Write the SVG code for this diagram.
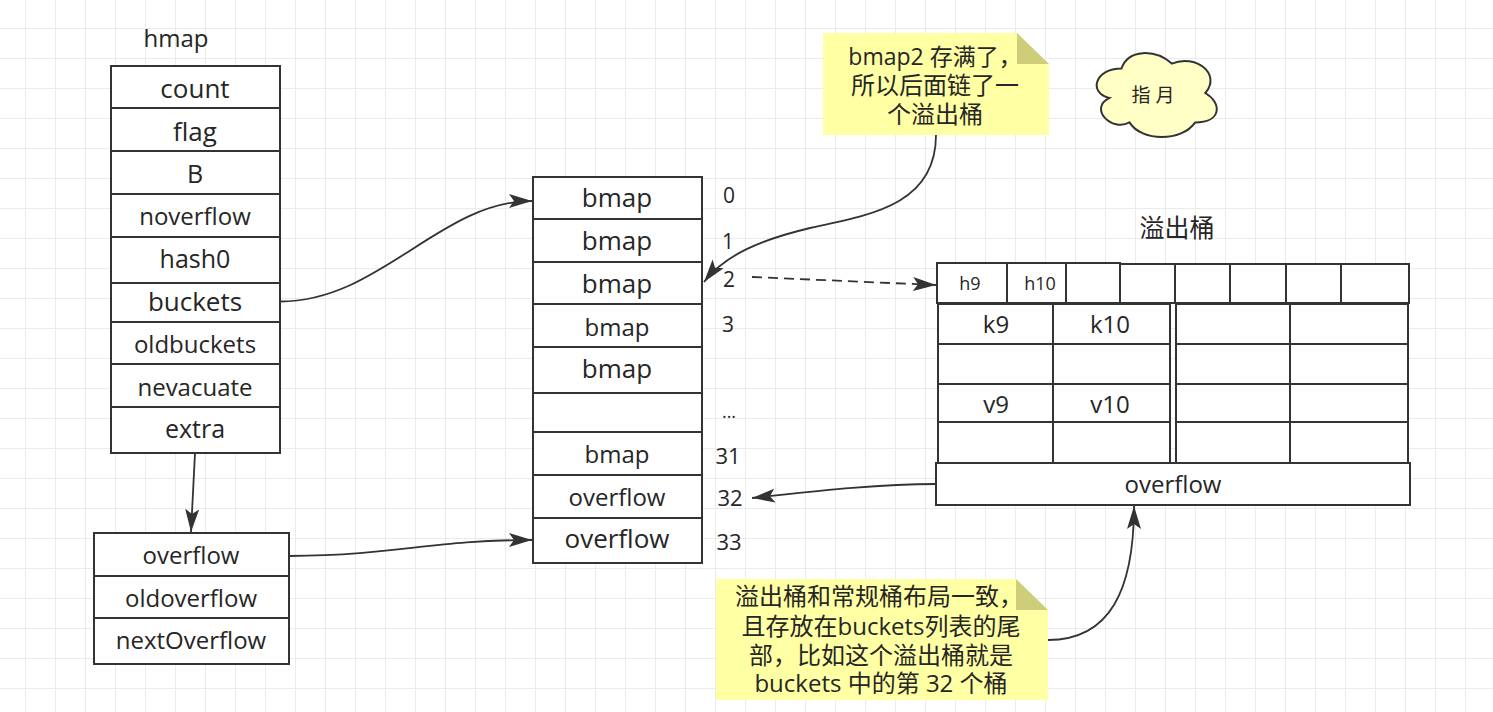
<svg xmlns="http://www.w3.org/2000/svg" width="1493" height="712" viewBox="0 0 1493 712">
<defs>
<pattern id="grid" x="25" y="28" width="30" height="30" patternUnits="userSpaceOnUse">
<path d="M0 0.5H30M0.5 0V30" stroke="#ebebeb" stroke-width="1" fill="none"/>
</pattern>
<marker id="arr" markerUnits="userSpaceOnUse" markerWidth="24" markerHeight="16" viewBox="0 0 24 16" refX="23" refY="8" orient="auto">
<path d="M0,1 L23,8 L0,15 L5,8 Z" fill="#333"/>
</marker>
<style>
.cell{fill:#fff;stroke:#333;stroke-width:2}
.t{font-family:"Open Sans","Noto Sans CJK SC",sans-serif;fill:#262626;text-anchor:middle}
.edge{fill:none;stroke:#333;stroke-width:1.8}
.note{fill:#ffffa4}
.fold{fill:#cdcd7a}
</style>
</defs>
<rect width="1493" height="712" fill="#fff"/>
<rect width="1493" height="712" fill="url(#grid)"/>

<g id="hmap">
<text class="t" x="176" y="47" font-size="24">hmap</text>
<rect class="cell" x="111" y="66" width="169" height="42"/>
<rect class="cell" x="111" y="108" width="169" height="43"/>
<rect class="cell" x="111" y="151" width="169" height="43"/>
<rect class="cell" x="111" y="194" width="169" height="43"/>
<rect class="cell" x="111" y="237" width="169" height="46"/>
<rect class="cell" x="111" y="283" width="169" height="39"/>
<rect class="cell" x="111" y="322" width="169" height="42"/>
<rect class="cell" x="111" y="364" width="169" height="43"/>
<rect class="cell" x="111" y="407" width="169" height="46"/>
<text class="t" x="195" y="98" font-size="26">count</text>
<text class="t" x="195" y="141" font-size="26">flag</text>
<text class="t" x="195" y="183" font-size="25">B</text>
<text class="t" x="195" y="225" font-size="24">noverflow</text>
<text class="t" x="195" y="268" font-size="25">hash0</text>
<text class="t" x="195" y="311" font-size="26">buckets</text>
<text class="t" x="195" y="353" font-size="24">oldbuckets</text>
<text class="t" x="195" y="396" font-size="24">nevacuate</text>
<text class="t" x="195" y="438" font-size="25">extra</text>
</g>

<g id="buckets">
<rect class="cell" x="533" y="177" width="169" height="42"/>
<rect class="cell" x="533" y="219" width="169" height="43"/>
<rect class="cell" x="533" y="262" width="169" height="42"/>
<rect class="cell" x="533" y="304" width="169" height="43"/>
<rect class="cell" x="533" y="347" width="169" height="46"/>
<rect class="cell" x="533" y="393" width="169" height="39"/>
<rect class="cell" x="533" y="432" width="169" height="43"/>
<rect class="cell" x="533" y="475" width="169" height="43"/>
<rect class="cell" x="533" y="518" width="169" height="45"/>
<text class="t" x="617" y="207" font-size="26">bmap</text>
<text class="t" x="617" y="250" font-size="26">bmap</text>
<text class="t" x="617" y="293" font-size="26">bmap</text>
<text class="t" x="617" y="336" font-size="24">bmap</text>
<text class="t" x="617" y="378" font-size="26">bmap</text>
<text class="t" x="617" y="463" font-size="24">bmap</text>
<text class="t" x="617" y="506" font-size="24">overflow</text>
<text class="t" x="617" y="548" font-size="26">overflow</text>
</g>

<g id="indices">
<text class="t" x="729" y="203" font-size="21">0</text>
<text class="t" x="728" y="249" font-size="21">1</text>
<text class="t" x="729" y="287" font-size="21">2</text>
<text class="t" x="728" y="332" font-size="21">3</text>
<text class="t" x="729" y="418" font-size="18">...</text>
<text class="t" x="728" y="464" font-size="22">31</text>
<text class="t" x="730" y="506" font-size="22">32</text>
<text class="t" x="729" y="550" font-size="22">33</text>
</g>

<g id="mapextra">
<rect class="cell" x="94" y="533" width="195" height="43"/>
<rect class="cell" x="94" y="576" width="195" height="42"/>
<rect class="cell" x="94" y="618" width="195" height="46"/>
<text class="t" x="191" y="564" font-size="24">overflow</text>
<text class="t" x="191" y="607" font-size="24">oldoverflow</text>
<text class="t" x="191" y="649" font-size="24">nextOverflow</text>
</g>

<g id="overflow-bucket">
<text class="t" x="1177" y="237" font-size="25">溢出桶</text>
<rect class="cell" x="937" y="263" width="70" height="40"/>
<rect class="cell" x="1007" y="263" width="59" height="40"/>
<rect class="cell" x="1066" y="263" width="54" height="40"/>
<rect class="cell" x="1120" y="264" width="55" height="39"/>
<rect class="cell" x="1175" y="264" width="55" height="39"/>
<rect class="cell" x="1230" y="264" width="56" height="39"/>
<rect class="cell" x="1286" y="264" width="55" height="39"/>
<rect class="cell" x="1341" y="264" width="68" height="39"/>
<rect class="cell" x="938" y="304" width="115" height="40"/>
<rect class="cell" x="1053" y="304" width="117" height="40"/>
<rect class="cell" x="938" y="344" width="115" height="40"/>
<rect class="cell" x="1053" y="344" width="117" height="40"/>
<rect class="cell" x="938" y="384" width="115" height="38"/>
<rect class="cell" x="1053" y="384" width="117" height="38"/>
<rect class="cell" x="938" y="422" width="115" height="41"/>
<rect class="cell" x="1053" y="422" width="117" height="41"/>
<rect class="cell" x="1176" y="304" width="114" height="40"/>
<rect class="cell" x="1290" y="304" width="118" height="40"/>
<rect class="cell" x="1176" y="344" width="114" height="40"/>
<rect class="cell" x="1290" y="344" width="118" height="40"/>
<rect class="cell" x="1176" y="384" width="114" height="38"/>
<rect class="cell" x="1290" y="384" width="118" height="38"/>
<rect class="cell" x="1176" y="422" width="114" height="41"/>
<rect class="cell" x="1290" y="422" width="118" height="41"/>
<rect class="cell" x="936" y="463" width="474" height="42"/>
<text class="t" x="970" y="290" font-size="18">h9</text>
<text class="t" x="1040" y="290" font-size="18">h10</text>
<text class="t" x="996" y="333" font-size="24">k9</text>
<text class="t" x="1110" y="333" font-size="24">k10</text>
<text class="t" x="996" y="413" font-size="24">v9</text>
<text class="t" x="1110" y="413" font-size="24">v10</text>
<text class="t" x="1173" y="493" font-size="24">overflow</text>
</g>

<g id="note-full">
<path class="note" d="M823,33 H1017 L1049,64 V135 H823 Z"/>
<path class="fold" d="M1017,33 V64 H1049 Z"/>
<text class="t" x="935" y="65" font-size="23">bmap2 存满了，</text>
<text class="t" x="935" y="94" font-size="24">所以后面链了一</text>
<text class="t" x="935" y="123" font-size="24">个溢出桶</text>
</g>

<g id="cloud">
<path d="M1121.5,68.5 C1094.7,68.5 1088,93 1109.4,97.9 C1088,108.7 1112.1,132.2 1129.5,122.4 C1141.6,142 1181.8,142 1195.2,122.4 C1222,122.4 1222,102.8 1205.3,93 C1222,73.4 1195.2,53.8 1171.8,63.6 C1155,48.9 1128.2,48.9 1121.5,68.5 Z" fill="#ffffc6" stroke="#333" stroke-width="2"/>
<text class="t" x="1153" y="102" font-size="19">指 月</text>
</g>

<g id="note-layout">
<path class="note" d="M716,579 H1016 L1048,610 V700 H716 Z"/>
<path class="fold" d="M1016,579 V610 H1048 Z"/>
<text class="t" x="879" y="605" font-size="24">溢出桶和常规桶布局一致，</text>
<text class="t" x="881" y="635" font-size="24">且存放在buckets列表的尾</text>
<text class="t" x="881" y="664" font-size="24">部，比如这个溢出桶就是</text>
<text class="t" x="881" y="692" font-size="24">buckets 中的第 32 个桶</text>
</g>

<g id="connectors">
<path class="edge" d="M280,301.5 C380,301.5 440,201 532,201" marker-end="url(#arr)"/>
<path class="edge" d="M195,453 L191,532" marker-end="url(#arr)"/>
<path class="edge" d="M289,556 C400,555 430,540 532,540" marker-end="url(#arr)"/>
<path class="edge" d="M936,135 C936,205 870,215 810,228 C760,240 725,255 704,282" marker-end="url(#arr)"/>
<path class="edge" d="M752,277 L936,285" stroke-dasharray="10 6" marker-end="url(#arr)"/>
<path class="edge" d="M936,484 C870,484 800,493 752,498" marker-end="url(#arr)"/>
<path class="edge" d="M1048,640 C1110,640 1134,590 1134,506" marker-end="url(#arr)"/>
</g>
</svg>
